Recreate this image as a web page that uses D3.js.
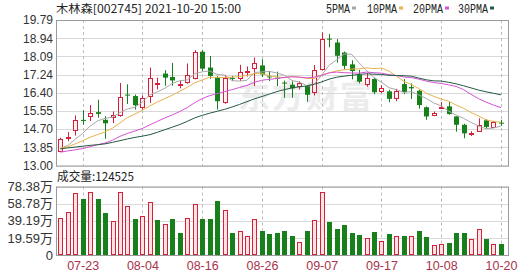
<!DOCTYPE html>
<html><head><meta charset="utf-8">
<script src="https://cdn.jsdelivr.net/npm/d3@7/dist/d3.min.js"></script>
<style>html,body{margin:0;padding:0;background:#fff;}svg{display:block;}</style>
</head><body>
<script>
// ---------- data ----------
const title = "木林森[002745] 2021-10-20 15:00";
const volTitle = "成交量:124525";
const dates = ["07-20","07-21","07-22","07-23","07-26","07-27","07-28","07-29","07-30",
"08-02","08-03","08-04","08-05","08-06","08-09","08-10","08-11","08-12","08-13","08-16","08-17","08-18","08-19","08-20","08-23","08-24","08-25","08-26","08-27","08-30","08-31",
"09-01","09-02","09-03","09-06","09-07","09-08","09-09","09-10","09-13","09-14","09-15","09-16","09-17","09-22","09-23","09-24","09-27","09-28","09-29","09-30",
"10-08","10-11","10-12","10-13","10-14","10-15","10-18","10-19","10-20"];
const dateTicks = ["07-23","08-04","08-16","08-26","09-07","09-17","10-08","10-20"];
const open  = [13.68,14.30,14.64,15.13,15.30,15.49,15.13,15.27,15.36,16.31,16.24,15.72,16.24,16.84,17.29,17.13,16.77,16.90,17.10,18.31,
               17.57,17.10,15.97,17.09,17.07,17.38,17.54,17.67,17.16,17.10,16.87,16.77,16.70,16.70,16.44,17.52,18.92,18.74,18.27,17.72,
               17.23,16.79,17.04,16.46,16.46,16.13,16.80,16.66,16.49,15.72,15.37,15.70,15.76,15.29,14.90,14.49,14.62,15.11,14.80,15.00];
const close = [14.24,14.33,15.13,15.08,15.43,15.41,14.97,15.36,16.19,16.27,15.81,16.16,17.07,16.87,17.10,16.97,16.80,17.23,18.31,17.52,
               17.18,16.00,17.07,17.05,17.38,17.42,17.77,17.25,17.12,17.06,16.83,16.60,16.86,16.30,17.44,18.90,18.88,18.12,17.65,17.41,
               16.91,17.10,16.42,16.60,16.11,16.49,16.43,16.60,15.82,15.29,15.45,15.73,15.40,14.90,14.50,14.52,14.88,14.80,15.03,14.98];
const high  = [14.30,14.56,15.34,15.58,15.82,16.07,15.30,15.52,16.85,16.79,16.31,16.27,17.57,17.10,17.45,17.79,16.95,17.76,18.38,18.40,
               18.11,17.18,17.23,17.18,17.70,17.62,18.04,17.96,17.41,17.38,16.96,16.93,16.93,16.74,17.69,19.21,19.13,18.90,18.32,17.91,
               17.46,17.31,17.10,16.75,16.53,16.58,17.03,16.83,16.54,15.76,15.52,15.96,15.96,15.29,14.95,14.60,15.20,15.16,15.08,15.13];
const low   = [13.66,14.13,14.40,14.90,15.08,15.23,14.25,14.98,15.28,15.87,15.61,15.61,15.92,16.55,16.72,16.72,16.60,16.82,17.02,17.41,
               17.04,15.61,15.88,16.94,16.94,17.15,16.71,17.13,16.94,16.71,16.16,16.16,16.55,15.97,16.27,17.44,18.52,17.80,17.49,17.02,
               16.83,16.68,16.33,16.38,15.95,16.00,16.33,16.10,15.65,15.13,15.30,15.65,15.37,14.58,14.27,14.38,14.60,14.73,14.77,14.85];
const ma5  = [13.80,13.93,14.22,14.50,14.84,15.08,15.20,15.25,15.47,15.64,15.72,15.96,16.30,16.44,16.60,16.83,16.96,16.99,17.28,17.37,
              17.41,17.25,17.22,16.96,16.94,16.98,17.34,17.37,17.39,17.32,17.21,16.97,16.89,16.73,16.81,17.22,17.68,17.93,18.20,18.19,
              17.79,17.44,17.10,16.89,16.63,16.54,16.41,16.45,16.29,16.13,15.92,15.78,15.54,15.35,15.20,15.01,14.84,14.72,14.75,14.84];
const ma10 = [13.81,13.87,14.01,14.15,14.32,14.44,14.57,14.74,14.99,15.24,15.40,15.58,15.78,15.96,16.12,16.28,16.46,16.65,16.86,16.99,
              17.12,17.11,17.11,17.12,17.16,17.20,17.30,17.30,17.18,17.13,17.10,17.16,17.13,17.06,17.07,17.22,17.33,17.41,17.47,17.50,
              17.51,17.56,17.52,17.55,17.41,17.17,16.93,16.78,16.59,16.38,16.23,16.10,16.00,15.82,15.67,15.47,15.31,15.13,15.05,15.02];
const ma20 = [13.62,13.68,13.73,13.79,13.88,13.97,14.05,14.18,14.36,14.50,14.61,14.73,14.90,15.06,15.22,15.36,15.52,15.70,15.93,16.12,
              16.26,16.35,16.45,16.54,16.64,16.74,16.88,16.98,17.02,17.06,17.11,17.14,17.12,17.09,17.12,17.21,17.32,17.36,17.33,17.32,
              17.31,17.36,17.33,17.31,17.24,17.20,17.13,17.10,17.03,16.94,16.87,16.83,16.76,16.69,16.54,16.32,16.12,15.96,15.82,15.70];
const ma30 = [13.78,13.82,13.86,13.90,13.94,13.97,14.01,14.08,14.16,14.24,14.31,14.37,14.44,14.55,14.67,14.79,14.91,15.06,15.22,15.34,
              15.44,15.53,15.62,15.73,15.85,15.98,16.11,16.22,16.33,16.45,16.54,16.62,16.67,16.71,16.79,16.90,17.03,17.12,17.17,17.21,
              17.25,17.28,17.26,17.25,17.21,17.20,17.19,17.17,17.08,17.00,16.95,16.94,16.88,16.81,16.72,16.62,16.52,16.44,16.37,16.30];
// volume in 万 (10k lots)
const volume = [42.8,49.6,71.2,64.4,72.3,64.4,48.5,39.4,72.3,55.7,41.7,45.1,61.0,40.5,36.0,41.7,25.0,42.8,58.7,41.7,
                41.7,62.1,51.9,25.0,28.0,22.3,41.3,26.9,23.9,25.0,27.3,21.6,14.8,27.3,40.5,72.3,37.9,29.5,34.1,25.4,
                22.7,18.9,26.1,15.9,23.9,21.6,21.6,21.6,27.3,20.4,11.4,12.5,14.0,25.0,25.0,18.2,29.2,18.2,12.5,12.45];
const priceTicks = [13.00,13.85,14.70,15.55,16.40,17.24,18.09,18.94,19.79];
const volTicks = [0,19.59,39.19,58.78,78.38];
const maNames = ["5PMA","10PMA","20PMA","30PMA"];

// ---------- layout / style ----------
const W = 530, H = 276;
const L = 56, R = 509;
const pTop = 20, pBot = 165.5, vTop = 186.5, vBot = 255;
const RED = "#d4203a", GREEN = "#17801a", REDFILL = "#fff2f2", VOLFILL = "#ffe3e3";
const maColors = ["#a8a8a8", "#e9b24a", "#d653d6", "#245a44"];
const maData = [ma5, ma10, ma20, ma30];

const svg = d3.select("body").append("svg").attr("width", W).attr("height", H)
  .style("font-family", "'Liberation Sans', Arial, sans-serif");

const x = d3.scaleBand().domain(dates).range([56.5, 504.7]).paddingInner(0).paddingOuter(0);
const cx = d => Math.round(x(d) + x.bandwidth() / 2);
const y = d3.scaleLinear().domain([13, 19.79]).range([pBot, pTop]);
const yv = d3.scaleLinear().domain([0, 78.38]).range([vBot, vTop]);

// watermark
svg.append("text").attr("x", 238).attr("y", 108).text("东方财富")
  .attr("font-family", "'Noto Sans CJK SC'").attr("font-weight", "bold")
  .attr("font-size", 32).attr("letter-spacing", 2).attr("fill", "#ececec");

// horizontal grid
function hgrid(ticks, sc) {
  svg.append("g").selectAll("line").data(ticks).join("line")
    .attr("x1", L).attr("x2", R)
    .attr("y1", d => Math.round(sc(d)) + 0.5).attr("y2", d => Math.round(sc(d)) + 0.5)
    .attr("stroke", "#d9d9d9").attr("stroke-width", 1);
}
hgrid(priceTicks, y);
hgrid(volTicks, yv);

// vertical dashed grid
[[pTop, pBot], [vTop, vBot]].forEach(([t, b]) => {
  svg.append("g").selectAll("line").data(dateTicks).join("line")
    .attr("x1", d => cx(d) + 0.5).attr("x2", d => cx(d) + 0.5)
    .attr("y1", t).attr("y2", b)
    .attr("stroke", "#bdbdbd").attr("stroke-dasharray", "3,3");
});

// candles
const candles = dates.map((d, i) => ({d, o: open[i], c: close[i], h: high[i], l: low[i], v: volume[i],
  vUp: i === 0 ? close[i] >= open[i] : close[i] >= close[i - 1]}));
const gC = svg.append("g");
gC.selectAll("line").data(candles).join("line")
  .attr("x1", k => cx(k.d) + 0.5).attr("x2", k => cx(k.d) + 0.5)
  .attr("y1", k => y(k.h)).attr("y2", k => y(k.l))
  .attr("stroke", k => k.c >= k.o ? RED : GREEN);
gC.selectAll("rect").data(candles).join("rect")
  .each(function (k) {
    const up = k.c >= k.o;
    const yt = y(Math.max(k.o, k.c)), yb = y(Math.min(k.o, k.c));
    const s = d3.select(this);
    if (up) {
      s.attr("x", cx(k.d) - 1.5).attr("width", 4)
       .attr("y", Math.round(yt) + 0.5).attr("height", Math.max(1, Math.round(yb) - Math.round(yt)))
       .attr("fill", REDFILL).attr("stroke", RED);
    } else {
      s.attr("x", cx(k.d) - 2).attr("width", 5)
       .attr("y", yt).attr("height", Math.max(1, yb - yt))
       .attr("fill", GREEN);
    }
  });

// moving averages
maData.forEach((arr, j) => {
  const line = d3.line().x((v, i) => x(dates[i]) + x.bandwidth() / 2).y(v => y(v));
  svg.append("path").datum(arr).attr("d", line).attr("fill", "none")
    .attr("stroke", maColors[j]).attr("stroke-width", 1);
});

// volume bars
svg.append("g").selectAll("rect").data(candles).join("rect")
  .each(function (k) {
    const s = d3.select(this);
    const top = Math.round(yv(k.v));
    if (k.vUp) {
      s.attr("x", cx(k.d) - 1.5).attr("width", 4).attr("y", top + 0.5).attr("height", vBot - top - 1)
       .attr("fill", VOLFILL).attr("stroke", RED);
    } else {
      s.attr("x", cx(k.d) - 2).attr("width", 5).attr("y", top).attr("height", vBot - top)
       .attr("fill", GREEN);
    }
  });

// frames
[[pTop, pBot], [vTop, vBot]].forEach(([t, b]) => {
  svg.append("rect").attr("x", L + 0.5).attr("y", t + 0.5).attr("width", R - L - 1).attr("height", b - t)
    .attr("fill", "none").attr("stroke", "#9a9a9a");
});

// y-axis labels (d3 axes, domain/ticks hidden)
const pAxis = svg.append("g").attr("transform", `translate(${L},0)`)
  .call(d3.axisLeft(y).tickValues(priceTicks).tickFormat(d3.format(".2f")).tickSize(0).tickPadding(3));
pAxis.select(".domain").remove();
pAxis.selectAll("text").attr("font-size", 12).attr("fill", "#333").attr("font-family", "'Liberation Sans', Arial, sans-serif");

const vAxis = svg.append("g").attr("transform", `translate(${L},0)`)
  .call(d3.axisLeft(yv).tickValues(volTicks).tickFormat(d => d === 0 ? "0" : d3.format(".2f")(d) + "万").tickSize(0).tickPadding(3));
vAxis.select(".domain").remove();
vAxis.selectAll("text").attr("font-size", 13).attr("fill", "#333").attr("font-family", "'Liberation Sans', 'Noto Sans CJK SC', sans-serif");

// x-axis labels
const xAxis = svg.append("g").attr("transform", `translate(0,${vBot})`)
  .call(d3.axisBottom(x).tickValues(dateTicks).tickSize(0).tickPadding(6));
xAxis.select(".domain").remove();
xAxis.selectAll("text").attr("font-size", 12.5).attr("fill", "#a8334a").attr("font-family", "'Liberation Sans', Arial, sans-serif")
  .attr("x", 0.5);

// titles
svg.append("text").attr("x", 56).attr("y", 12.5).text(title)
  .attr("font-family", "'Noto Sans CJK SC', sans-serif").attr("font-size", 11.5).attr("fill", "#222")
  .attr("textLength", 185).attr("lengthAdjust", "spacingAndGlyphs");
svg.append("text").attr("x", 57).attr("y", 181).text(volTitle)
  .attr("font-family", "'Noto Sans CJK SC', sans-serif").attr("font-size", 12).attr("fill", "#222")
  .attr("textLength", 77).attr("lengthAdjust", "spacingAndGlyphs");

// legend
const legX = [326, 367, 413, 458];
const legG = svg.append("g");
maNames.forEach((n, j) => {
  const w = n.length * 6;
  legG.append("text").attr("x", legX[j]).attr("y", 12.5).text(n)
    .attr("font-family", "'Liberation Mono', monospace").attr("font-size", 12).attr("fill", "#222")
    .attr("textLength", w).attr("lengthAdjust", "spacingAndGlyphs");
  legG.append("rect").attr("x", legX[j] + w + 2).attr("y", 6.5).attr("width", 4).attr("height", 3)
    .attr("fill", maColors[j]);
});
</script>
</body></html>
